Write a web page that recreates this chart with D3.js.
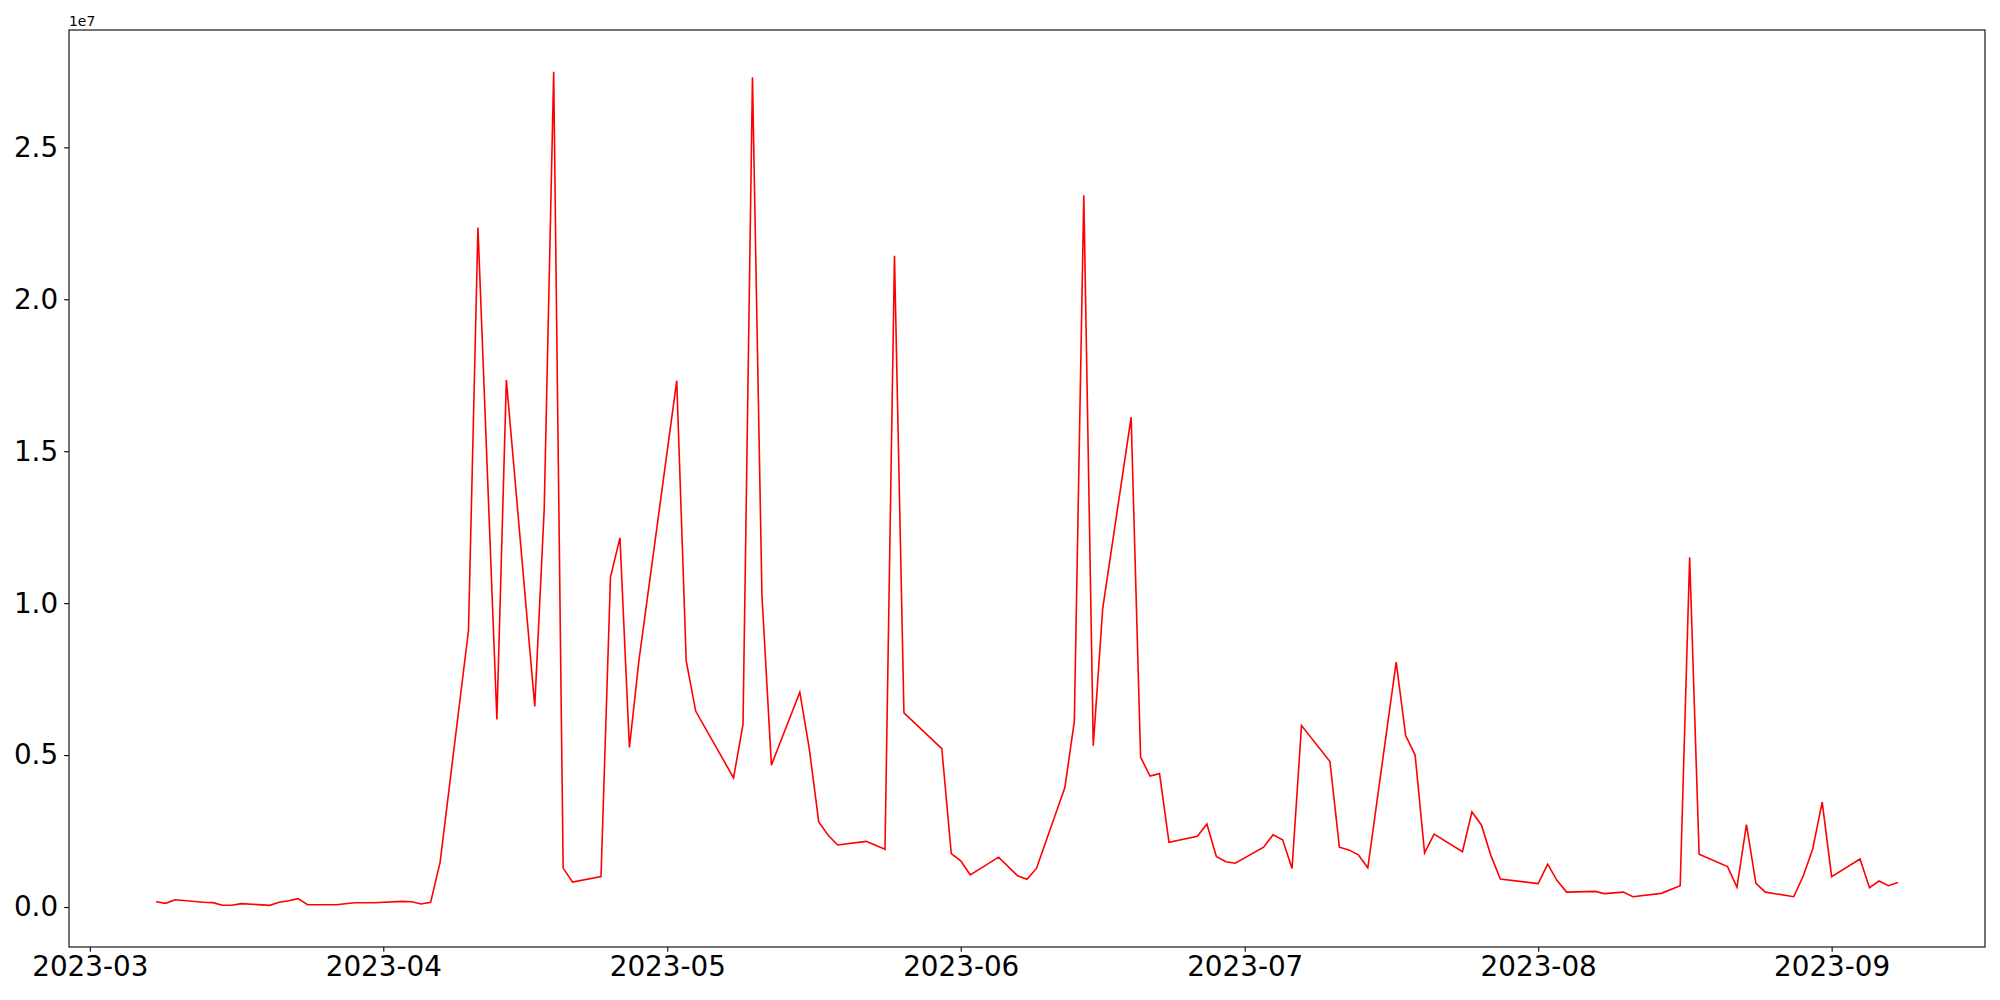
<!DOCTYPE html>
<html lang="en">
<head>
<meta charset="UTF-8">
<title>Line</title>
<script src="https://d3js.org/d3.v7.min.js"></script>
<style>
    * { padding: 0; margin: 0; }
    body { background: white; }
    svg { display: block; font-family: "DejaVu Sans", sans-serif; }
</style>
</head>
<body>
<div id="chart"></div>
<script>
// data (weekdays only)
const dates = [
    '2023-03-08','2023-03-09','2023-03-10','2023-03-13','2023-03-14','2023-03-15','2023-03-16','2023-03-17',
    '2023-03-20','2023-03-21','2023-03-22','2023-03-23','2023-03-24','2023-03-27','2023-03-28','2023-03-29',
    '2023-03-30','2023-03-31','2023-04-03','2023-04-04','2023-04-05','2023-04-06','2023-04-07','2023-04-10',
    '2023-04-11','2023-04-13','2023-04-14','2023-04-17','2023-04-18','2023-04-19','2023-04-20','2023-04-21',
    '2023-04-24','2023-04-25','2023-04-26','2023-04-27','2023-04-28','2023-05-02','2023-05-03','2023-05-04',
    '2023-05-08','2023-05-09','2023-05-10','2023-05-11','2023-05-12','2023-05-15','2023-05-16','2023-05-17',
    '2023-05-18','2023-05-19','2023-05-22','2023-05-23','2023-05-24','2023-05-25','2023-05-26','2023-05-30',
    '2023-05-31','2023-06-01','2023-06-02','2023-06-05','2023-06-07','2023-06-08','2023-06-09','2023-06-12',
    '2023-06-13','2023-06-14','2023-06-15','2023-06-16','2023-06-19','2023-06-20','2023-06-21','2023-06-22',
    '2023-06-23','2023-06-26','2023-06-27','2023-06-28','2023-06-29','2023-06-30','2023-07-03','2023-07-04',
    '2023-07-05','2023-07-06','2023-07-07','2023-07-10','2023-07-11','2023-07-12','2023-07-13','2023-07-14',
    '2023-07-17','2023-07-18','2023-07-19','2023-07-20','2023-07-21','2023-07-24','2023-07-25','2023-07-26',
    '2023-07-27','2023-07-28','2023-08-01','2023-08-02','2023-08-03','2023-08-04','2023-08-07','2023-08-08',
    '2023-08-10','2023-08-11','2023-08-14','2023-08-16','2023-08-17','2023-08-18','2023-08-21','2023-08-22',
    '2023-08-23','2023-08-24','2023-08-25','2023-08-28','2023-08-29','2023-08-30','2023-08-31','2023-09-01',
    '2023-09-04','2023-09-05','2023-09-06','2023-09-07','2023-09-08'
];

const values = [
    174000, 122000, 240000, 155000, 145000, 56000, 56000, 110000,
    56000, 155000, 208000, 274000, 77000, 77000, 110000, 143000,
    143000, 143000, 186000, 175000, 99000, 154000, 1470000, 9100000,
    22360000, 6170000, 17340000, 6600000, 13090000, 27490000, 1280000, 820000,
    1000000, 10860000, 12150000, 5250000, 8100000, 17320000, 8100000, 6450000,
    4250000, 6010000, 27310000, 10260000, 4670000, 7070000, 5210000, 2800000,
    2360000, 2040000, 2160000, 2030000, 1900000, 21430000, 6390000, 5210000,
    1760000, 1520000, 1060000, 1640000, 1030000, 910000, 1270000, 3930000,
    6110000, 23420000, 5310000, 9830000, 16120000, 4930000, 4310000, 4390000,
    2130000, 2330000, 2730000, 1660000, 1490000, 1440000, 1970000, 2380000,
    2210000, 1270000, 5970000, 4790000, 1970000, 1880000, 1720000, 1290000,
    8060000, 5640000, 5000000, 1780000, 2400000, 1820000, 3130000, 2700000,
    1700000, 920000, 770000, 1410000, 870000, 490000, 515000, 440000,
    490000, 340000, 450000, 700000, 11510000, 1740000, 1330000, 650000,
    2710000, 780000, 490000, 340000, 1020000, 1910000, 3450000, 1000000,
    1580000, 635000, 855000, 700000, 810000
];

const w = 2000;
const h = 1000;
const margin = {left: 69, right: 15, top: 30, bottom: 53};
const fontSize = 27.8;
const tickLen = 4.86;

const parse = d3.utcParse('%Y-%m-%d');
const data = dates.map((d, i) => ({date: parse(d), value: values[i]}));

// pad both domains by 5% like matplotlib
function pad(ext) {
    const span = ext[1] - ext[0];
    return [ext[0] - span * 0.05, ext[1] + span * 0.05];
}

const xExt = pad(d3.extent(data, d => +d.date));
const yExt = pad(d3.extent(data, d => d.value));

const x = d3.scaleUtc()
    .domain([new Date(xExt[0]), new Date(xExt[1])])
    .range([margin.left, w - margin.right]);

const y = d3.scaleLinear()
    .domain(yExt)
    .range([h - margin.bottom, margin.top]);

const svg = d3.select('#chart').append('svg')
    .attr('width', w)
    .attr('height', h);

const xAxis = d3.axisBottom(x)
    .ticks(d3.utcMonth.every(1))
    .tickFormat(d3.utcFormat('%Y-%m'))
    .tickSizeOuter(0)
    .tickSizeInner(tickLen)
    .tickPadding(4.86);

const yAxis = d3.axisLeft(y)
    .ticks(6)
    .tickFormat(d => (d / 1e7).toFixed(1))
    .tickSizeOuter(0)
    .tickSizeInner(tickLen)
    .tickPadding(6);

const gx = svg.append('g')
    .attr('transform', 'translate(0,' + (h - margin.bottom) + ')')
    .call(xAxis);

const gy = svg.append('g')
    .attr('transform', 'translate(' + margin.left + ',0)')
    .call(yAxis);

[gx, gy].forEach(g => {
    g.select('.domain').remove();
    g.selectAll('.tick line').attr('stroke', 'black').attr('stroke-width', 1.1);
    g.selectAll('.tick text')
        .attr('fill', 'black')
        .style('font-size', fontSize + 'px')
        .style('font-family', '"DejaVu Sans", sans-serif');
});

// the line
const line = d3.line()
    .x(d => x(d.date))
    .y(d => y(d.value));

svg.append('path')
    .datum(data)
    .attr('fill', 'none')
    .attr('stroke', 'red')
    .attr('stroke-width', 1.6)
    .attr('stroke-linejoin', 'miter')
    .attr('d', line);

// frame
svg.append('rect')
    .attr('x', margin.left)
    .attr('y', margin.top)
    .attr('width', w - margin.left - margin.right)
    .attr('height', h - margin.top - margin.bottom)
    .attr('fill', 'none')
    .attr('stroke', 'black')
    .attr('stroke-width', 1.1);

// offset label
svg.append('text')
    .attr('x', margin.left)
    .attr('y', margin.top - 4)
    .style('font-size', '13.9px')
    .text('1e7');
</script>
</body>
</html>
